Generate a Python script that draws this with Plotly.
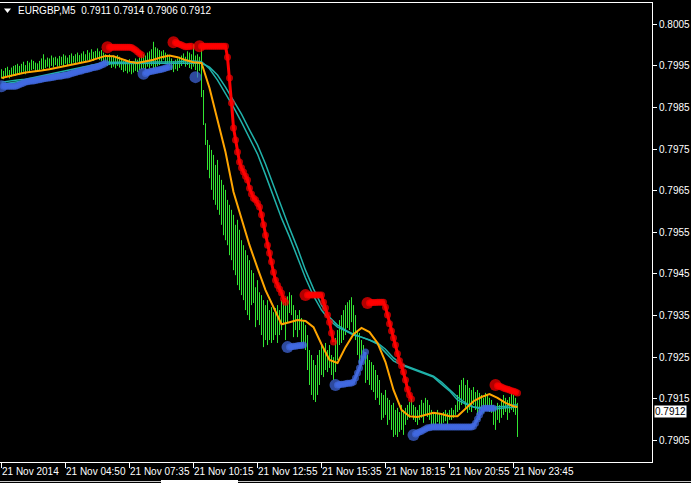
import plotly.graph_objects as go

# ---------------- data ----------------
symbol_title = "EURGBP,M5"
last_ohlc = ["0.7911", "0.7914", "0.7906", "0.7912"]
last_close = 0.7912

time_labels = ["21 Nov 2014", "21 Nov 04:50", "21 Nov 07:35", "21 Nov 10:15", "21 Nov 12:55",
               "21 Nov 15:35", "21 Nov 18:15", "21 Nov 20:55", "21 Nov 23:45"]
time_label_bars = [0, 32, 64, 96, 128, 160, 192, 224, 256]
price_ticks = [0.7905, 0.7915, 0.7925, 0.7935, 0.7945, 0.7955, 0.7965, 0.7975, 0.7985, 0.7995, 0.8005]

bar_high = [
    0.79942, 0.79938, 0.79945, 0.79948, 0.79940, 0.79946, 0.79950, 0.79952, 0.79955, 0.79950,
    0.79955, 0.79960, 0.79952, 0.79962, 0.79958, 0.79965, 0.79962, 0.79958, 0.79956, 0.79962,
    0.79968, 0.79978, 0.79965, 0.79970, 0.79968, 0.79975, 0.79970, 0.79972, 0.79968, 0.79974,
    0.79972, 0.79978, 0.79975, 0.79970, 0.79976, 0.79980, 0.79974, 0.79978, 0.79982, 0.79976,
    0.79980, 0.79985, 0.79978, 0.79988, 0.79982, 0.79990, 0.79984, 0.79986, 0.79992, 0.79985,
    0.79988, 0.79982, 0.79978, 0.79975, 0.79978, 0.79972, 0.79975, 0.79970, 0.79976, 0.79972,
    0.79968, 0.79962, 0.79965, 0.79960, 0.79966, 0.79958, 0.79962, 0.79968, 0.79965, 0.79970,
    0.79980, 0.79978, 0.79975, 0.79982, 0.79985, 0.79990, 0.80008, 0.79995, 0.79992, 0.79988,
    0.79985, 0.79988, 0.79982, 0.79978, 0.79975, 0.79968, 0.79962, 0.79965, 0.79968, 0.79972,
    0.79975, 0.79980, 0.79972, 0.79985, 0.79982, 0.79978, 0.80002, 0.79975, 0.79978, 0.79972,
    0.79993, 0.79892, 0.79812, 0.79772, 0.79760, 0.79748, 0.79736, 0.79712, 0.79724, 0.79688,
    0.79676, 0.79664, 0.79652, 0.79628, 0.79616, 0.79604, 0.79592, 0.79568, 0.79580, 0.79556,
    0.79531, 0.79519, 0.79507, 0.79495, 0.79483, 0.79459, 0.79452, 0.79418, 0.79435, 0.79406,
    0.79399, 0.79387, 0.79375, 0.79387, 0.79363, 0.79370, 0.79358, 0.79368, 0.79375, 0.79363,
    0.79387, 0.79399, 0.79392, 0.79396, 0.79406, 0.79399, 0.79375, 0.79363, 0.79351, 0.79363,
    0.79344, 0.79339, 0.79327, 0.79303, 0.79267, 0.79255, 0.79243, 0.79231, 0.79255, 0.79267,
    0.79279, 0.79272, 0.79284, 0.79267, 0.79279, 0.79255, 0.79250, 0.79296, 0.79315, 0.79339,
    0.79351, 0.79363, 0.79375, 0.79382, 0.79387, 0.79394, 0.79375, 0.79351, 0.79315, 0.79308,
    0.79291, 0.79279, 0.79262, 0.79255, 0.79243, 0.79238, 0.79231, 0.79219, 0.79207, 0.79195,
    0.79164, 0.79159, 0.79171, 0.79152, 0.79147, 0.79135, 0.79140, 0.79123, 0.79128, 0.79118,
    0.79135, 0.79123, 0.79128, 0.79135, 0.79142, 0.79156, 0.79135, 0.79130, 0.79123, 0.79135,
    0.79147, 0.79140, 0.79152, 0.79147, 0.79135, 0.79123, 0.79116, 0.79118, 0.79123, 0.79116,
    0.79111, 0.79118, 0.79123, 0.79116, 0.79123, 0.79128, 0.79123, 0.79135, 0.79159, 0.79183,
    0.79195, 0.79200, 0.79183, 0.79195, 0.79176, 0.79171, 0.79178, 0.79166, 0.79171, 0.79164,
    0.79159, 0.79152, 0.79164, 0.79159, 0.79152, 0.79147, 0.79135, 0.79130, 0.79140, 0.79135,
    0.79147, 0.79159, 0.79152, 0.79147, 0.79154, 0.79164, 0.79159, 0.79152, 0.79140,
]
bar_low = [
    0.79920, 0.79918, 0.79922, 0.79925, 0.79920, 0.79924, 0.79928, 0.79926, 0.79930, 0.79928,
    0.79932, 0.79936, 0.79930, 0.79938, 0.79935, 0.79940, 0.79942, 0.79938, 0.79936, 0.79940,
    0.79942, 0.79938, 0.79945, 0.79948, 0.79944, 0.79950, 0.79946, 0.79952, 0.79948, 0.79950,
    0.79952, 0.79948, 0.79955, 0.79950, 0.79956, 0.79954, 0.79958, 0.79955, 0.79960, 0.79956,
    0.79958, 0.79962, 0.79960, 0.79964, 0.79960, 0.79966, 0.79962, 0.79965, 0.79968, 0.79964,
    0.79962, 0.79958, 0.79955, 0.79950, 0.79952, 0.79945, 0.79948, 0.79944, 0.79950, 0.79946,
    0.79940, 0.79935, 0.79938, 0.79932, 0.79936, 0.79930, 0.79934, 0.79938, 0.79935, 0.79940,
    0.79942, 0.79945, 0.79940, 0.79948, 0.79944, 0.79950, 0.79942, 0.79946, 0.79950, 0.79952,
    0.79960, 0.79965, 0.79958, 0.79955, 0.79950, 0.79940, 0.79935, 0.79942, 0.79938, 0.79945,
    0.79950, 0.79955, 0.79948, 0.79952, 0.79945, 0.79942, 0.79948, 0.79940, 0.79922, 0.79938,
    0.79875, 0.79808, 0.79760, 0.79700, 0.79680, 0.79652, 0.79628, 0.79616, 0.79604, 0.79592,
    0.79568, 0.79543, 0.79531, 0.79519, 0.79495, 0.79483, 0.79459, 0.79447, 0.79423, 0.79411,
    0.79399, 0.79387, 0.79363, 0.79351, 0.79339, 0.79375, 0.79380, 0.79322, 0.79339, 0.79327,
    0.79303, 0.79274, 0.79291, 0.79279, 0.79291, 0.79284, 0.79291, 0.79303, 0.79284, 0.79303,
    0.79315, 0.79327, 0.79291, 0.79334, 0.79356, 0.79351, 0.79298, 0.79315, 0.79298, 0.79315,
    0.79286, 0.79279, 0.79267, 0.79219, 0.79183, 0.79159, 0.79147, 0.79142, 0.79159, 0.79183,
    0.79207, 0.79202, 0.79219, 0.79214, 0.79224, 0.79207, 0.79195, 0.79214, 0.79243, 0.79279,
    0.79284, 0.79291, 0.79303, 0.79320, 0.79315, 0.79334, 0.79308, 0.79291, 0.79255, 0.79226,
    0.79243, 0.79253, 0.79188, 0.79195, 0.79183, 0.79171, 0.79166, 0.79147, 0.79152, 0.79135,
    0.79099, 0.79104, 0.79111, 0.79087, 0.79099, 0.79075, 0.79058, 0.79063, 0.79058, 0.79070,
    0.79075, 0.79063, 0.79087, 0.79099, 0.79104, 0.79111, 0.79099, 0.79094, 0.79087, 0.79099,
    0.79104, 0.79092, 0.79111, 0.79106, 0.79099, 0.79087, 0.79089, 0.79087, 0.79094, 0.79089,
    0.79087, 0.79092, 0.79096, 0.79089, 0.79099, 0.79099, 0.79104, 0.79111, 0.79118, 0.79123,
    0.79135, 0.79147, 0.79128, 0.79116, 0.79123, 0.79118, 0.79135, 0.79123, 0.79111, 0.79099,
    0.79118, 0.79116, 0.79123, 0.79128, 0.79118, 0.79116, 0.79087, 0.79075, 0.79099, 0.79092,
    0.79104, 0.79111, 0.79118, 0.79099, 0.79116, 0.79123, 0.79118, 0.79111, 0.79058,
]

# moving averages, read every 4th bar (and the last bar)
ma_bars = list(range(0, 257, 4)) + [258]
ma_orange = [
    0.79921, 0.79926, 0.79930, 0.79934, 0.79936, 0.79939, 0.79942, 0.79946, 0.79950, 0.79953,
    0.79957, 0.79962, 0.79968, 0.79974, 0.79973, 0.79967, 0.79960, 0.79957, 0.79961, 0.79965,
    0.79971, 0.79975, 0.79971, 0.79964, 0.79959, 0.79957, 0.79897, 0.79820, 0.79743, 0.79647,
    0.79584, 0.79519, 0.79464, 0.79411, 0.79370, 0.79329, 0.79334, 0.79339, 0.79337, 0.79322,
    0.79281, 0.79243, 0.79236, 0.79274, 0.79305, 0.79320, 0.79310, 0.79284, 0.79238, 0.79171,
    0.79123, 0.79108, 0.79106, 0.79111, 0.79116, 0.79113, 0.79108, 0.79108, 0.79127, 0.79144,
    0.79154, 0.79161, 0.79152, 0.79140, 0.79132, 0.79130,
]
ma_teal_a = [
    0.79911, 0.79914, 0.79916, 0.79918, 0.79922, 0.79926, 0.79930, 0.79934, 0.79938, 0.79943,
    0.79946, 0.79950, 0.79954, 0.79959, 0.79959, 0.79959, 0.79959, 0.79959, 0.79959, 0.79959,
    0.79960, 0.79960, 0.79960, 0.79962, 0.79962, 0.79960, 0.79943, 0.79916, 0.79885, 0.79851,
    0.79815, 0.79777, 0.79738, 0.79688, 0.79637, 0.79584, 0.79539, 0.79488, 0.79440, 0.79397,
    0.79363, 0.79339, 0.79322, 0.79313, 0.79303, 0.79298, 0.79291, 0.79281, 0.79262, 0.79241,
    0.79231, 0.79224, 0.79216, 0.79209, 0.79202, 0.79185, 0.79169, 0.79147, 0.79137, 0.79130,
    0.79128, 0.79129, 0.79130, 0.79132, 0.79135, 0.79135,
]
ma_teal_b = [
    0.79906, 0.79909, 0.79911, 0.79914, 0.79917, 0.79921, 0.79926, 0.79929, 0.79933, 0.79938,
    0.79941, 0.79945, 0.79950, 0.79954, 0.79956, 0.79956, 0.79956, 0.79956, 0.79956, 0.79956,
    0.79956, 0.79956, 0.79956, 0.79956, 0.79956, 0.79957, 0.79947, 0.79928, 0.79899, 0.79868,
    0.79834, 0.79796, 0.79760, 0.79714, 0.79661, 0.79611, 0.79560, 0.79512, 0.79459, 0.79414,
    0.79375, 0.79346, 0.79327, 0.79315, 0.79305, 0.79298, 0.79291, 0.79284, 0.79269, 0.79248,
    0.79233, 0.79226, 0.79219, 0.79212, 0.79204, 0.79190, 0.79173, 0.79154, 0.79140, 0.79130,
    0.79125, 0.79125, 0.79126, 0.79128, 0.79129, 0.79130,
]

# stop-dot segments: first bar index and the level of every bar in the segment
blue_starts = [0, 71, 97, 143, 167, 206]
blue_values = [
    [0.79901] * 8 + [0.79903, 0.79905, 0.79907, 0.79909, 0.79911,
                     0.79912, 0.79913, 0.79914, 0.79914,
                     0.79915, 0.79916, 0.79917, 0.79918, 0.79919, 0.79920, 0.79921, 0.79921,
                     0.79922, 0.79923, 0.79924, 0.79925, 0.79925, 0.79926, 0.79927, 0.79928, 0.79928,
                     0.79930, 0.79932, 0.79933, 0.79934, 0.79936, 0.79937, 0.79938, 0.79940,
                     0.79941, 0.79942, 0.79943, 0.79945, 0.79946, 0.79947, 0.79948, 0.79950,
                     0.79952, 0.79954, 0.79957],
    [0.79931, 0.79932, 0.79934, 0.79936, 0.79937, 0.79938, 0.79939, 0.79940, 0.79941, 0.79942,
     0.79943, 0.79945, 0.79946, 0.79948],
    [0.79923],
    [0.79274, 0.79274, 0.79275, 0.79276, 0.79276, 0.79277, 0.79278, 0.79278, 0.79279],
    [0.79183, 0.79183, 0.79184, 0.79185, 0.79185, 0.79186, 0.79187, 0.79187, 0.79188,
     0.79190, 0.79200, 0.79212, 0.79224, 0.79238, 0.79250, 0.79262],
    [0.79063, 0.79065, 0.79068, 0.79070, 0.79072, 0.79075, 0.79077, 0.79080, 0.79080, 0.79082]
    + [0.79082] * 20 + [0.79084, 0.79091, 0.79101, 0.79111, 0.79120, 0.79127] + [0.79127] * 5,
]
red_starts = [53, 86, 99, 152, 183, 247]
red_values = [
    [0.79995] * 12 + [0.79994, 0.79991, 0.79988, 0.79984, 0.79980, 0.79977],
    [0.80007, 0.80006, 0.80004, 0.80002, 0.80000, 0.79998, 0.79996, 0.79996, 0.79997, 0.79997],
    [0.79997] * 14 + [0.79971, 0.79921, 0.79861, 0.79801, 0.79772, 0.79743, 0.79719, 0.79705,
                      0.79695, 0.79685, 0.79676, 0.79656, 0.79642, 0.79632, 0.79628, 0.79620,
                      0.79611, 0.79592, 0.79568, 0.79543, 0.79519, 0.79500, 0.79479, 0.79454,
                      0.79435, 0.79423, 0.79414, 0.79404, 0.79390, 0.79382],
    [0.79399] * 9 + [0.79382, 0.79368, 0.79351, 0.79334, 0.79308, 0.79286],
    [0.79380, 0.79380, 0.79381, 0.79381, 0.79381, 0.79382, 0.79382, 0.79382, 0.79382,
     0.79370, 0.79351, 0.79330, 0.79313, 0.79296, 0.79279, 0.79258, 0.79241, 0.79229,
     0.79214, 0.79195, 0.79173, 0.79159, 0.79149],
    [0.79183, 0.79181, 0.79180, 0.79178, 0.79176, 0.79174, 0.79173, 0.79171, 0.79169,
     0.79168, 0.79166, 0.79164],
]

# ---------------- style ----------------
BG = "#000000"
FG = "#ffffff"
GREEN = "#32e632"
ORANGE = "#ffa500"
TEAL = "#20b2aa"
BLUE = "#4169e1"
RED = "#ff0000"
FONT = "Liberation Sans"

W, H = 691, 483
ML, MR, MT, MB = 0, 39, 3, 21
plot_w = W - ML - MR
plot_h = H - MT - MB

fig = go.Figure()

# price bars (high-low strokes)
bx, by = [], []
for i, (h, l) in enumerate(zip(bar_high, bar_low)):
    bx += [i, i, None]
    by += [l, h, None]
fig.add_trace(go.Scatter(x=bx, y=by, mode="lines", line=dict(color=GREEN, width=1),
                         hoverinfo="skip"))

# moving averages
fig.add_trace(go.Scatter(x=ma_bars, y=ma_teal_b, mode="lines", line=dict(color=TEAL, width=1.5)))
fig.add_trace(go.Scatter(x=ma_bars, y=ma_teal_a, mode="lines", line=dict(color=TEAL, width=1.5)))
fig.add_trace(go.Scatter(x=ma_bars, y=ma_orange, mode="lines", line=dict(color=ORANGE, width=2)))

# stop dots
def add_segments(starts, values, color):
    for s, vals in zip(starts, values):
        xs = list(range(s, s + len(vals)))
        sizes = [12] + [7] * (len(vals) - 1)
        fig.add_trace(go.Scatter(x=xs, y=vals, mode="lines+markers",
                                 line=dict(color=color, width=3),
                                 marker=dict(color=color, size=sizes, line=dict(width=0))))

add_segments(blue_starts, blue_values, BLUE)
add_segments(red_starts, red_values, RED)

# axis ranges so that one bar = 2 px
x0 = -0.75
x1 = x0 + plot_w / 2.0
px_per_price = 41.6 / 0.001
top_price = 0.8005 + (24.3 - MT) / px_per_price
bot_price = top_price - plot_h / px_per_price

annotations = []
for b, t in zip(time_label_bars, time_labels):
    annotations.append(dict(x=b, xref="x", y=0, yref="paper", text=t, showarrow=False,
                            xanchor="left", yanchor="top", xshift=-2, yshift=-2,
                            font=dict(family=FONT, size=10, color=FG)))
annotations.append(dict(x=16 / plot_w, xref="paper", y=(plot_h - (10.5 - MT)) / plot_h, yref="paper",
                        text=symbol_title + "\u00a0\u00a0" + " ".join(last_ohlc), showarrow=False,
                        xanchor="left", yanchor="middle",
                        font=dict(family=FONT, size=10, color=FG)))
annotations.append(dict(x=1, xref="paper", xshift=2, y=last_close, yref="y", text="0.7912",
                        showarrow=False, xanchor="left", yanchor="middle", bgcolor=FG,
                        borderpad=0, font=dict(family=FONT, size=10, color=BG)))

def px_x(p):
    return (p - ML) / plot_w

def px_y(p):
    return (H - MB - p) / plot_h

shapes = [
    dict(type="path", xref="paper", yref="paper",
         path="M {} {} L {} {} L {} {} Z".format(px_x(4), px_y(8.5), px_x(11), px_y(8.5), px_x(7.5), px_y(13)),
         fillcolor=FG, line=dict(width=0)),
    dict(type="line", xref="paper", yref="paper", x0=px_x(0), x1=px_x(W), y0=px_y(481.5), y1=px_y(481.5),
         line=dict(color="#c8c8c8", width=1)),
    dict(type="rect", xref="paper", yref="paper", x0=px_x(161), x1=px_x(238), y0=px_y(483), y1=px_y(480),
         fillcolor=FG, line=dict(width=0)),
]

fig.update_layout(
    width=W, height=H, paper_bgcolor=BG, plot_bgcolor=BG, showlegend=False,
    margin=dict(l=ML, r=MR, t=MT, b=MB, pad=0),
    xaxis=dict(range=[x0, x1], showgrid=False, zeroline=False, showline=True, mirror=True,
               linecolor=FG, linewidth=1, ticks="outside", ticklen=5, tickcolor=FG,
               tickvals=time_label_bars, showticklabels=False, fixedrange=True),
    yaxis=dict(range=[bot_price, top_price], side="right", showgrid=False, zeroline=False,
               showline=True, linecolor=FG, linewidth=1, ticks="outside", ticklen=4, tickcolor=FG,
               tickvals=price_ticks, ticktext=["{:.4f}".format(v) for v in price_ticks],
               tickfont=dict(family=FONT, size=10, color=FG), fixedrange=True),
    annotations=annotations, shapes=shapes,
)

fig.write_html("out.html", config={"displayModeBar": False},
               post_script="document.body.style.margin='0px';document.body.style.background='#000';")
